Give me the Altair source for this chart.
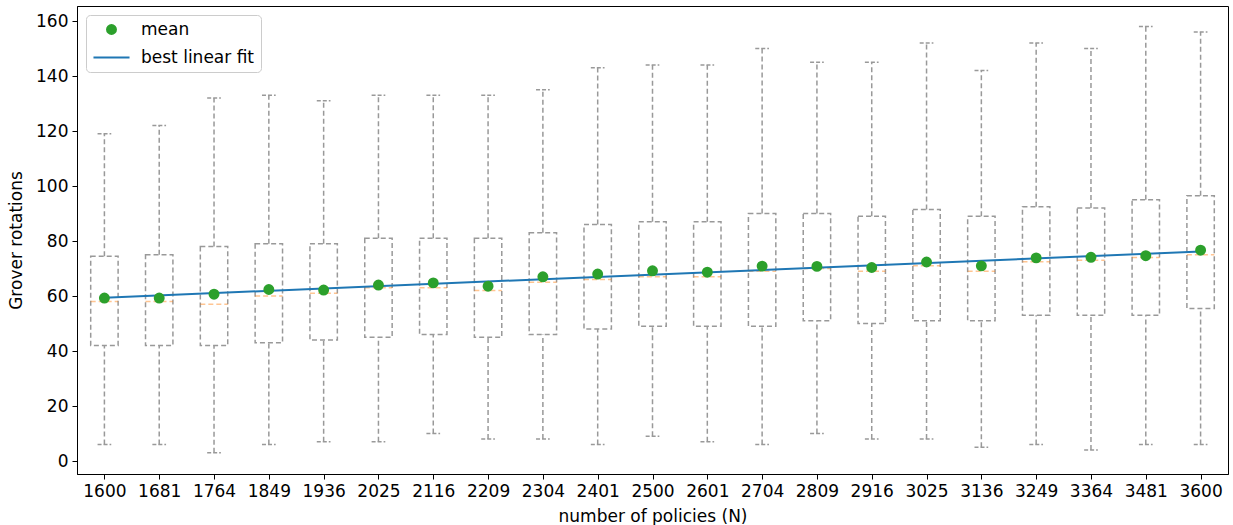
import altair as alt
import pandas as pd

n_labels = ["1600", "1681", "1764", "1849", "1936", "2025", "2116", "2209", "2304", "2401",
            "2500", "2601", "2704", "2809", "2916", "3025", "3136", "3249", "3364", "3481", "3600"]
means = [59.3, 59.3, 60.7, 62.4, 62.2, 64.0, 64.8, 63.6, 67.0, 68.0,
         69.2, 68.7, 70.9, 70.8, 70.4, 72.4, 71.0, 73.9, 74.1, 74.7, 76.7]
medians = [58, 58, 57, 60, 61, 63, 63, 62, 65, 66,
           67, 67, 69, 70, 69, 71, 69, 72.5, 73, 74, 75]
q1 = [42, 42, 42, 43, 44, 45, 46, 45, 46, 48,
      49, 49, 49, 51, 50, 51, 51, 53, 53, 53, 55.5]
q3 = [74.5, 75, 78, 79, 79, 81, 81, 81, 83, 86,
      87, 87, 90, 90, 89, 91.5, 89, 92.5, 92, 95, 96.5]
whisk_hi = [119, 122, 132, 133, 131, 133, 133, 133, 135, 143,
            144, 144, 150, 145, 145, 152, 142, 152, 150, 158, 156]
whisk_lo = [6, 6, 3, 6, 7, 7, 10, 8, 8, 6,
            9, 7, 6, 10, 8, 8, 5, 6, 4, 6, 6]
series_names = ["mean", "best linear fit"]

GRAY = "#999999"
GREEN = "#2ca02c"
BLUE = "#1f77b4"
DASH = [5, 3]
LW = 1.5
FS = 17

df = pd.DataFrame({
    "idx": list(range(len(n_labels))),
    "n": n_labels,
    "mean": means,
    "median": medians,
    "q1": q1,
    "q3": q3,
    "lo": whisk_lo,
    "hi": whisk_hi,
    "series": "mean",
})

label_arr = "[" + ",".join("'" + s + "'" for s in n_labels) + "]"
xscale = alt.Scale(domain=[-0.5, 20.5], nice=False, zero=False)
yscale = alt.Scale(domain=[-4.7, 165.5], nice=False, zero=False)
xaxis = alt.Axis(values=list(range(21)), labelExpr=label_arr + "[datum.value]",
                 tickSize=5, labelPadding=4, titlePadding=9, grid=False)
yaxis = alt.Axis(values=list(range(0, 161, 20)), tickSize=5, labelPadding=4,
                 titlePadding=10, grid=False)
XT = "number of policies (N)"
YT = "Grover rotations"


def X(f):
    return alt.X(f, type="quantitative", scale=xscale, axis=xaxis, title=XT)


def Y(f):
    return alt.Y(f, type="quantitative", scale=yscale, axis=yaxis, title=YT)


base = alt.Chart(df).transform_calculate(
    xl="datum.idx - 0.25", xr="datum.idx + 0.25",
    cl="datum.idx - 0.125", cr="datum.idx + 0.125")

whisk_up = base.mark_rule(color=GRAY, strokeDash=DASH, strokeWidth=LW).encode(
    x=X("idx"), y=Y("q3"), y2="hi")
whisk_dn = base.mark_rule(color=GRAY, strokeDash=DASH, strokeWidth=LW).encode(
    x=X("idx"), y=Y("lo"), y2="q1")
cap_up = base.mark_rule(color=GRAY, strokeDash=[4, 2], strokeWidth=LW).encode(
    x=X("cl"), x2="cr", y=Y("hi"))
cap_dn = base.mark_rule(color=GRAY, strokeDash=[4, 2], strokeWidth=LW).encode(
    x=X("cl"), x2="cr", y=Y("lo"))
boxes = base.mark_rect(fillOpacity=0, stroke=GRAY, strokeDash=DASH, strokeWidth=LW).encode(
    x=X("xl"), x2="xr", y=Y("q1"), y2="q3")
med = base.mark_rule(color="#ff7f0e", opacity=0.45, strokeDash=DASH, strokeWidth=LW).encode(
    x=X("xl"), x2="xr", y=Y("median"))

leg = alt.Legend(orient="top-left", offset=9, padding=6, labelFontSize=FS,
                 labelColor="black", strokeColor="#cccccc", cornerRadius=4,
                 fillColor="white", symbolStrokeWidth=2, symbolOpacity=1,
                 labelOffset=10, rowPadding=0)

fit = base.transform_regression("idx", "mean").transform_calculate(
    series="'best linear fit'").mark_line(strokeWidth=2).encode(
    x=X("idx"), y=Y("mean"),
    stroke=alt.Stroke("series:N", scale=alt.Scale(domain=series_names, range=[GREEN, BLUE]),
                      legend=leg, title=None))

pts = base.mark_point(filled=True, opacity=1, strokeWidth=2).encode(
    x=X("idx"), y=Y("mean"),
    fill=alt.Fill("series:N", scale=alt.Scale(domain=series_names, range=[GREEN, BLUE]),
                  legend=leg, title=None),
    stroke=alt.Stroke("series:N", scale=alt.Scale(domain=series_names, range=[GREEN, BLUE]),
                      legend=leg, title=None),
    shape=alt.Shape("series:N", scale=alt.Scale(domain=series_names, range=["circle", "stroke"]),
                    legend=leg, title=None),
    size=alt.Size("series:N", scale=alt.Scale(domain=series_names, range=[80, 1300]),
                  legend=leg, title=None),
)

chart = alt.layer(whisk_up, whisk_dn, cap_up, cap_dn, boxes, med, fit, pts).properties(
    width=1151, height=468,
    autosize=alt.AutoSizeParams(type="none"),
    padding={"left": 77, "top": 6, "right": 5, "bottom": 51},
).configure(font="DejaVu Sans").configure_view(
    stroke="black", strokeWidth=1
).configure_axis(
    labelFontSize=FS, titleFontSize=FS, labelColor="black", titleColor="black",
    titleFontWeight="normal", domainColor="black", tickColor="black",
    domainWidth=1, tickWidth=1,
)

chart.save("out.html", embed_options={"renderer": "svg", "actions": False})
